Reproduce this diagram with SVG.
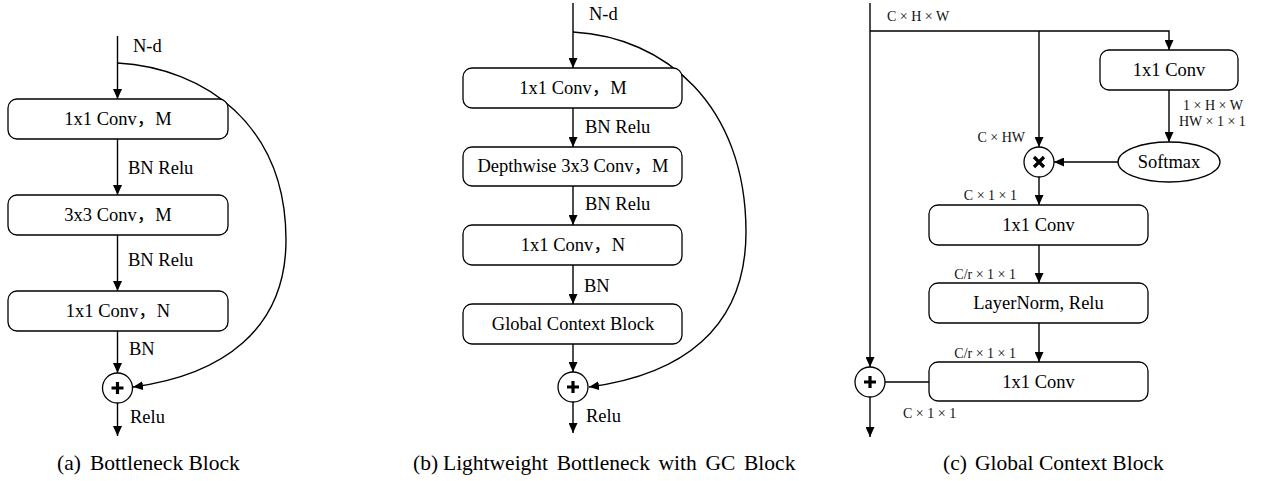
<svg xmlns="http://www.w3.org/2000/svg" width="1264" height="481" viewBox="0 0 1264 481">
<defs>
<marker id="ah" viewBox="0 0 10 9" refX="10" refY="4.5" markerWidth="10" markerHeight="9" markerUnits="userSpaceOnUse" orient="auto">
<path d="M0,0 L10,4.5 L0,9 z" fill="#000"/>
</marker>
<style>
.box{fill:#fff;stroke:#000;stroke-width:1.3}
.ln{fill:none;stroke:#000;stroke-width:1.4}
.ar{fill:none;stroke:#000;stroke-width:1.4;marker-end:url(#ah)}
.op{fill:#fff;stroke:#000;stroke-width:1.3}
.sym{fill:none;stroke:#000;stroke-width:3.2}
.t{font-family:"Liberation Serif","Noto Sans CJK SC",serif;font-size:18.5px;fill:#000}
.c{text-anchor:middle}
.s{font-family:"Liberation Serif","Noto Sans CJK SC",serif;font-size:14px;fill:#111}
.cap{font-family:"Liberation Serif",serif;font-size:21.5px;fill:#000}
</style>
</defs>

<g id="connectors">
<!-- (a) -->
<line class="ar" x1="117.5" y1="36" x2="117.5" y2="99"/>
<line class="ar" x1="117.5" y1="139" x2="117.5" y2="195"/>
<line class="ar" x1="117.5" y1="235" x2="117.5" y2="291"/>
<line class="ar" x1="117.5" y1="331" x2="117.5" y2="373"/>
<line class="ar" x1="117.5" y1="403" x2="117.5" y2="436"/>
<path class="ar" d="M117.5,63 C205,68 286,125 286,240 C286,330 222,375 133,387"/>
<!-- (b) -->
<line class="ar" x1="573" y1="3" x2="573" y2="68"/>
<line class="ar" x1="573" y1="108" x2="573" y2="147"/>
<line class="ar" x1="573" y1="186" x2="573" y2="225"/>
<line class="ar" x1="573" y1="265" x2="573" y2="304"/>
<line class="ar" x1="573" y1="344" x2="573" y2="372"/>
<line class="ar" x1="573" y1="402" x2="573" y2="433"/>
<path class="ar" d="M573,32 C665,37 746,105 746,232 C746,330 680,375 589,387"/>
<!-- (c) -->
<line class="ar" x1="870" y1="3" x2="870" y2="367"/>
<path class="ar" d="M870,31 L1169,31 L1169,50"/>
<line class="ar" x1="1039" y1="31" x2="1039" y2="147"/>
<line class="ar" x1="1169" y1="90" x2="1169" y2="142"/>
<line class="ar" x1="1118" y1="162" x2="1054" y2="162"/>
<line class="ar" x1="1039" y1="177" x2="1039" y2="205"/>
<line class="ar" x1="1039" y1="245" x2="1039" y2="283"/>
<line class="ar" x1="1039" y1="323" x2="1039" y2="362"/>
<line class="ln" x1="885" y1="382" x2="929" y2="382"/>
<line class="ar" x1="870" y1="397" x2="870" y2="437"/>
</g>

<g id="labels">
<text class="t" x="133" y="52">N-d</text>
<text class="t" x="128" y="174">BN Relu</text>
<text class="t" x="128" y="266">BN Relu</text>
<text class="t" x="129" y="355">BN</text>
<text class="t" x="130" y="423">Relu</text>
<text class="t" x="589" y="20">N-d</text>
<text class="t" x="585" y="133">BN Relu</text>
<text class="t" x="585" y="210">BN Relu</text>
<text class="t" x="584" y="292">BN</text>
<text class="t" x="586" y="422">Relu</text>
<text class="s" x="887" y="21">C × H × W</text>
<text class="s" x="1183" y="110">1 × H × W</text>
<text class="s" x="1179" y="126">HW × 1 × 1</text>
<text class="s" x="1025" y="142" text-anchor="end">C × HW</text>
<text class="s" x="1017" y="200" text-anchor="end">C × 1 × 1</text>
<text class="s" x="1016" y="279" text-anchor="end">C/r × 1 × 1</text>
<text class="s" x="1016" y="358" text-anchor="end">C/r × 1 × 1</text>
<text class="s" x="903" y="418">C × 1 × 1</text>
</g>

<g id="a-conv1"><rect class="box" x="8" y="99" width="220" height="40" rx="9"/><text class="t c" x="118" y="125">1x1 Conv，M</text></g>
<g id="a-conv2"><rect class="box" x="8" y="195" width="220" height="40" rx="9"/><text class="t c" x="118" y="221">3x3 Conv，M</text></g>
<g id="a-conv3"><rect class="box" x="8" y="291" width="220" height="40" rx="9"/><text class="t c" x="118" y="317">1x1 Conv，N</text></g>
<g id="a-add"><circle class="op" cx="117.5" cy="388" r="15"/><path class="sym" d="M111.5,388 H123.5 M117.5,382 V394"/></g>

<g id="b-conv1"><rect class="box" x="463" y="68" width="219" height="40" rx="9"/><text class="t c" x="573" y="94">1x1 Conv，M</text></g>
<g id="b-conv2"><rect class="box" x="463" y="147" width="219" height="39" rx="9"/><text class="t c" x="573" y="172">Depthwise 3x3 Conv，M</text></g>
<g id="b-conv3"><rect class="box" x="463" y="225" width="219" height="40" rx="9"/><text class="t c" x="573" y="251">1x1 Conv，N</text></g>
<g id="b-gc"><rect class="box" x="463" y="304" width="219" height="40" rx="9"/><text class="t c" x="573" y="330">Global Context Block</text></g>
<g id="b-add"><circle class="op" cx="573" cy="387" r="15"/><path class="sym" d="M567,387 H579 M573,381 V393"/></g>

<g id="c-conv-mask"><rect class="box" x="1100" y="50" width="138" height="40" rx="9"/><text class="t c" x="1169" y="76">1x1 Conv</text></g>
<g id="c-softmax"><ellipse class="op" cx="1169" cy="162" rx="51" ry="20"/><text class="t c" x="1169" y="168">Softmax</text></g>
<g id="c-mul"><circle class="op" cx="1039" cy="162" r="15"/><path class="sym" d="M1034,157 L1044,167 M1044,157 L1034,167"/></g>
<g id="c-conv1"><rect class="box" x="929" y="205" width="219" height="40" rx="9"/><text class="t c" x="1038.5" y="231">1x1 Conv</text></g>
<g id="c-ln"><rect class="box" x="929" y="283" width="219" height="40" rx="9"/><text class="t c" x="1038.5" y="309">LayerNorm, Relu</text></g>
<g id="c-conv2"><rect class="box" x="929" y="362" width="219" height="39" rx="9"/><text class="t c" x="1038.5" y="388">1x1 Conv</text></g>
<g id="c-add"><circle class="op" cx="870" cy="382" r="15"/><path class="sym" d="M864,382 H876 M870,376 V388"/></g>

<g id="captions">
<text class="cap" x="57" y="470">(a)</text><text class="cap" x="90" y="470">Bottleneck Block</text>
<text class="cap" x="413" y="470">(b)</text><text class="cap" x="443" y="470" word-spacing="3.3">Lightweight Bottleneck with GC Block</text>
<text class="cap" x="943" y="470">(c)</text><text class="cap" x="975" y="470">Global Context Block</text>
</g>
</svg>
